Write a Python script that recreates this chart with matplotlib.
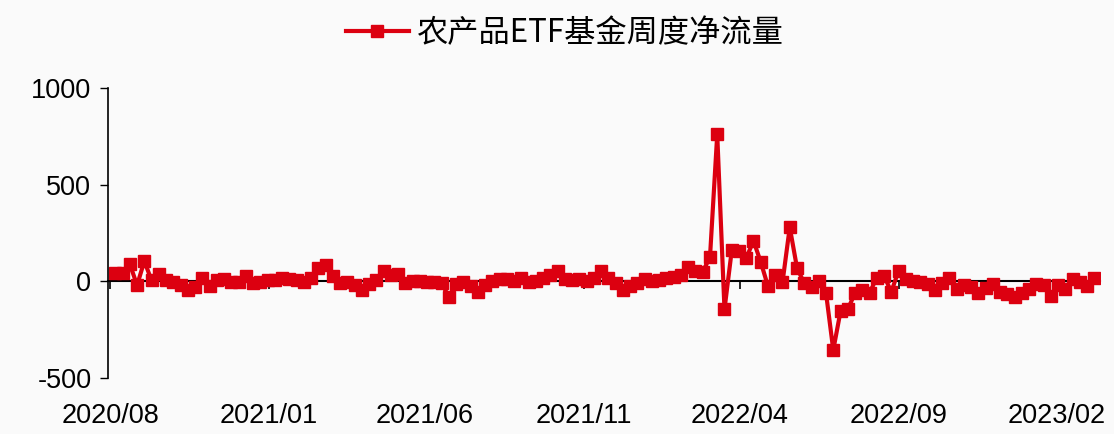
import matplotlib
matplotlib.use("Agg")
import matplotlib.pyplot as plt
import pandas as pd

plt.rcParams['font.family'] = ['Liberation Sans', 'Noto Sans CJK SC', 'DejaVu Sans']
plt.rcParams['axes.unicode_minus'] = False

## weekly net flow
flow = [45, 45, 90, -20, 105, 5, 40, 5, -5, -20,
        -45, -30, 20, -25, 5, 10, -5, -5, 30, -10,
        -5, 5, 5, 20, 10, 5, -5, 15, 70, 85,
        30, -10, -5, -20, -45, -15, 5, 55, 35, 40,
        -10, 0, 0, -5, -5, -10, -80, -15, -5, -25,
        -55, -20, 0, 10, 10, 0, 15, -5, 0, 20,
        35, 55, 10, 5, 10, 0, 15, 55, 20, -10,
        -45, -25, -10, 10, 0, 5, 20, 25, 35, 75,
        55, 50, 125, 760, -145, 160, 155, 120, 210, 100,
        -25, 35, -5, 280, 70, -10, -30, 0, -60, -355,
        -155, -145, -60, -45, -60, 20, 30, -55, 55, 10,
        0, -5, -15, -45, -10, 15, -40, -20, -30, -60,
        -35, -15, -55, -65, -80, -60, -40, -15, -20, -75,
        -20, -40, 10, -5, -25, 15]
dates = pd.date_range("2020-08-06", periods=len(flow), freq="7D")

tick_dates = pd.to_datetime(["2020-08-01", "2021-01-01", "2021-06-01",
                             "2021-11-01", "2022-04-01", "2022-09-01", "2023-02-01"])
tick_labels = ["2020/08", "2021/01", "2021/06", "2021/11", "2022/04", "2022/09", "2023/02"]

red = "#dc0010"
bg = "#fafafa"

fig = plt.figure(figsize=(11.14, 4.34), dpi=100, facecolor=bg)
ax = fig.add_axes([0.097, 0.129, 0.890, 0.668], facecolor=bg)

ax.plot(dates, flow, color=red, lw=3, marker="s", ms=9,
        label="农产品ETF基金周度净流量")

ax.set_ylim(-500, 1000)
ax.set_yticks([-500, 0, 500, 1000])
ax.set_xlim(pd.Timestamp("2020-07-30"), pd.Timestamp("2023-03-14"))
ax.set_xticks(tick_dates)
ax.set_xticklabels(tick_labels)
ax.tick_params(axis="x", length=0, labelsize=19.5, pad=18)
ax.tick_params(axis="y", length=6, width=1, labelsize=19.5, pad=6)

for s in ["top", "right", "bottom"]:
    ax.spines[s].set_visible(False)
ax.spines["left"].set_linewidth(1.2)

## zero line with tick marks
sec = ax.secondary_xaxis(1 / 3)
sec.set_xticks(tick_dates)
sec.set_xticklabels([])
sec.tick_params(length=6, width=1.2, direction="out")
sec.spines["bottom"].set_linewidth(1.5)

fig.legend(loc="upper center", bbox_to_anchor=(0.507, 1.025), frameon=False,
           handlelength=2.0, handletextpad=0.25,
           prop={"family": ["Noto Sans CJK SC"], "size": 22.5})

fig.savefig("out.png", dpi=100, facecolor=bg)
